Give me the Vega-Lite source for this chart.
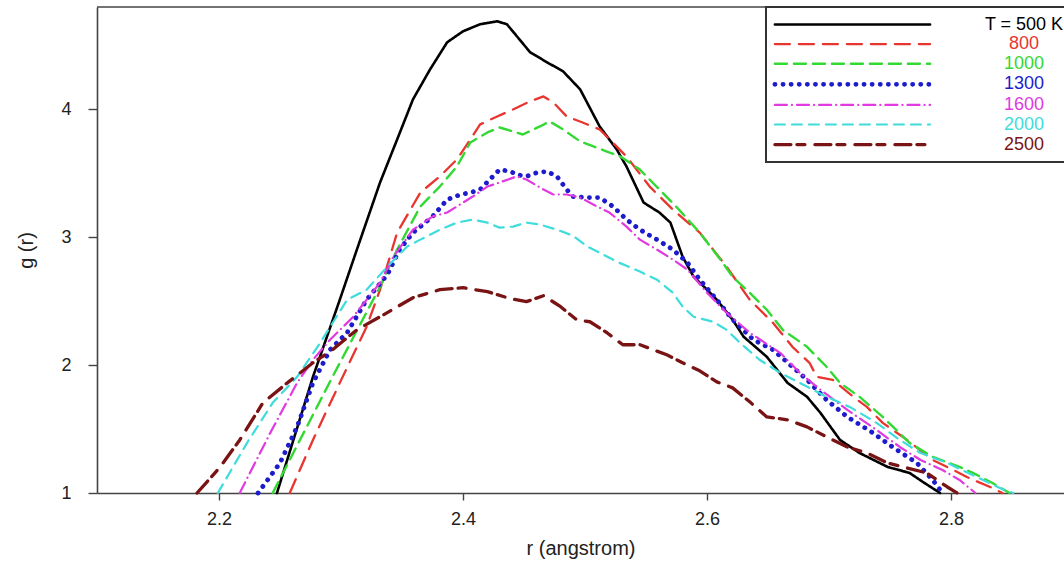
{
  "$schema": "https://vega.github.io/schema/vega-lite/v6.json",
  "width": 967,
  "height": 486,
  "autosize": {"type": "none"},
  "padding": {"left": 97, "top": 7, "right": 0, "bottom": 75},
  "background": "white",
  "config": {
    "view": {"stroke": null},
    "font": "Liberation Sans",
    "axis": {
      "domainColor": "#444", "domainWidth": 1.6, "tickColor": "#444", "tickWidth": 1.4,
      "labelFont": "Liberation Sans", "labelFontSize": 18, "labelColor": "#222",
      "titleFont": "Liberation Sans", "titleFontSize": 20, "titleColor": "#222", "titleFontWeight": "normal",
      "grid": false
    }
  },
  "layer": [
    {
      "data": {"values": [{}]},
      "mark": {"type": "rule", "color": "#444", "strokeWidth": 1.6},
      "encoding": {"y": {"datum": 4.8, "type": "quantitative"}}
    },
    {
      "data": {"values": [
        {"T":"T = 500 K","r":2.2475,"g":1.0},{"T":"T = 500 K","r":2.277,"g":1.908},{"T":"T = 500 K","r":2.299,"g":2.511},{"T":"T = 500 K","r":2.313,"g":2.903},{"T":"T = 500 K","r":2.332,"g":3.428},{"T":"T = 500 K","r":2.346,"g":3.764},{"T":"T = 500 K","r":2.359,"g":4.078},{"T":"T = 500 K","r":2.373,"g":4.312},{"T":"T = 500 K","r":2.387,"g":4.524},{"T":"T = 500 K","r":2.4,"g":4.61},{"T":"T = 500 K","r":2.414,"g":4.665},{"T":"T = 500 K","r":2.428,"g":4.688},{"T":"T = 500 K","r":2.436,"g":4.665},{"T":"T = 500 K","r":2.455,"g":4.446},{"T":"T = 500 K","r":2.469,"g":4.367},{"T":"T = 500 K","r":2.482,"g":4.297},{"T":"T = 500 K","r":2.496,"g":4.156},{"T":"T = 500 K","r":2.512,"g":3.866},{"T":"T = 500 K","r":2.526,"g":3.686},{"T":"T = 500 K","r":2.534,"g":3.553},{"T":"T = 500 K","r":2.548,"g":3.271},{"T":"T = 500 K","r":2.561,"g":3.193},{"T":"T = 500 K","r":2.57,"g":3.114},{"T":"T = 500 K","r":2.58,"g":2.848},{"T":"T = 500 K","r":2.589,"g":2.691},{"T":"T = 500 K","r":2.6,"g":2.59},{"T":"T = 500 K","r":2.608,"g":2.511},{"T":"T = 500 K","r":2.621,"g":2.355},{"T":"T = 500 K","r":2.63,"g":2.222},{"T":"T = 500 K","r":2.649,"g":2.065},{"T":"T = 500 K","r":2.666,"g":1.861},{"T":"T = 500 K","r":2.682,"g":1.752},{"T":"T = 500 K","r":2.693,"g":1.626},{"T":"T = 500 K","r":2.709,"g":1.415},{"T":"T = 500 K","r":2.725,"g":1.313},{"T":"T = 500 K","r":2.748,"g":1.204},{"T":"T = 500 K","r":2.766,"g":1.157},{"T":"T = 500 K","r":2.777,"g":1.086},{"T":"T = 500 K","r":2.791,"g":1.0},
        {"T":"800","r":2.258,"g":1.0},{"T":"800","r":2.277,"g":1.415},{"T":"800","r":2.299,"g":1.861},{"T":"800","r":2.321,"g":2.3},{"T":"800","r":2.332,"g":2.59},{"T":"800","r":2.346,"g":3.036},{"T":"800","r":2.365,"g":3.349},{"T":"800","r":2.381,"g":3.475},{"T":"800","r":2.395,"g":3.608},{"T":"800","r":2.406,"g":3.764},{"T":"800","r":2.414,"g":3.882},{"T":"800","r":2.428,"g":3.944},{"T":"800","r":2.441,"g":3.999},{"T":"800","r":2.455,"g":4.062},{"T":"800","r":2.466,"g":4.101},{"T":"800","r":2.474,"g":4.054},{"T":"800","r":2.485,"g":3.944},{"T":"800","r":2.498,"g":3.897},{"T":"800","r":2.512,"g":3.843},{"T":"800","r":2.534,"g":3.631},{"T":"800","r":2.553,"g":3.396},{"T":"800","r":2.572,"g":3.216},{"T":"800","r":2.594,"g":3.036},{"T":"800","r":2.616,"g":2.77},{"T":"800","r":2.635,"g":2.511},{"T":"800","r":2.654,"g":2.331},{"T":"800","r":2.67,"g":2.143},{"T":"800","r":2.684,"g":2.018},{"T":"800","r":2.69,"g":1.908},{"T":"800","r":2.703,"g":1.885},{"T":"800","r":2.72,"g":1.752},{"T":"800","r":2.731,"g":1.673},{"T":"800","r":2.744,"g":1.548},{"T":"800","r":2.764,"g":1.415},{"T":"800","r":2.785,"g":1.258},{"T":"800","r":2.802,"g":1.18},{"T":"800","r":2.813,"g":1.125},{"T":"800","r":2.834,"g":1.039},{"T":"800","r":2.842,"g":1.0},
        {"T":"1000","r":2.244,"g":1.0},{"T":"1000","r":2.293,"g":1.908},{"T":"1000","r":2.332,"g":2.613},{"T":"1000","r":2.346,"g":2.903},{"T":"1000","r":2.365,"g":3.24},{"T":"1000","r":2.381,"g":3.396},{"T":"1000","r":2.395,"g":3.553},{"T":"1000","r":2.406,"g":3.741},{"T":"1000","r":2.42,"g":3.819},{"T":"1000","r":2.43,"g":3.858},{"T":"1000","r":2.441,"g":3.827},{"T":"1000","r":2.449,"g":3.803},{"T":"1000","r":2.463,"g":3.866},{"T":"1000","r":2.471,"g":3.905},{"T":"1000","r":2.482,"g":3.843},{"T":"1000","r":2.496,"g":3.749},{"T":"1000","r":2.518,"g":3.67},{"T":"1000","r":2.529,"g":3.631},{"T":"1000","r":2.545,"g":3.529},{"T":"1000","r":2.561,"g":3.373},{"T":"1000","r":2.577,"g":3.216},{"T":"1000","r":2.594,"g":3.036},{"T":"1000","r":2.611,"g":2.825},{"T":"1000","r":2.621,"g":2.691},{"T":"1000","r":2.635,"g":2.566},{"T":"1000","r":2.649,"g":2.433},{"T":"1000","r":2.662,"g":2.276},{"T":"1000","r":2.682,"g":2.143},{"T":"1000","r":2.698,"g":1.987},{"T":"1000","r":2.709,"g":1.861},{"T":"1000","r":2.725,"g":1.752},{"T":"1000","r":2.744,"g":1.595},{"T":"1000","r":2.766,"g":1.392},{"T":"1000","r":2.785,"g":1.282},{"T":"1000","r":2.807,"g":1.204},{"T":"1000","r":2.818,"g":1.157},{"T":"1000","r":2.834,"g":1.078},{"T":"1000","r":2.848,"g":1.0},
        {"T":"1300","r":2.232,"g":1.0},{"T":"1300","r":2.25,"g":1.235},{"T":"1300","r":2.264,"g":1.517},{"T":"1300","r":2.277,"g":1.861},{"T":"1300","r":2.291,"g":2.12},{"T":"1300","r":2.305,"g":2.253},{"T":"1300","r":2.321,"g":2.511},{"T":"1300","r":2.338,"g":2.707},{"T":"1300","r":2.348,"g":2.903},{"T":"1300","r":2.359,"g":3.036},{"T":"1300","r":2.375,"g":3.161},{"T":"1300","r":2.387,"g":3.294},{"T":"1300","r":2.398,"g":3.334},{"T":"1300","r":2.406,"g":3.349},{"T":"1300","r":2.414,"g":3.373},{"T":"1300","r":2.422,"g":3.451},{"T":"1300","r":2.43,"g":3.529},{"T":"1300","r":2.439,"g":3.514},{"T":"1300","r":2.444,"g":3.49},{"T":"1300","r":2.452,"g":3.475},{"T":"1300","r":2.461,"g":3.506},{"T":"1300","r":2.469,"g":3.514},{"T":"1300","r":2.477,"g":3.475},{"T":"1300","r":2.485,"g":3.373},{"T":"1300","r":2.49,"g":3.318},{"T":"1300","r":2.502,"g":3.31},{"T":"1300","r":2.512,"g":3.31},{"T":"1300","r":2.523,"g":3.24},{"T":"1300","r":2.534,"g":3.138},{"T":"1300","r":2.545,"g":3.059},{"T":"1300","r":2.559,"g":2.981},{"T":"1300","r":2.572,"g":2.903},{"T":"1300","r":2.584,"g":2.801},{"T":"1300","r":2.594,"g":2.668},{"T":"1300","r":2.608,"g":2.511},{"T":"1300","r":2.621,"g":2.355},{"T":"1300","r":2.638,"g":2.198},{"T":"1300","r":2.654,"g":2.12},{"T":"1300","r":2.67,"g":1.987},{"T":"1300","r":2.682,"g":1.885},{"T":"1300","r":2.698,"g":1.728},{"T":"1300","r":2.715,"g":1.595},{"T":"1300","r":2.736,"g":1.47},{"T":"1300","r":2.752,"g":1.36},{"T":"1300","r":2.772,"g":1.235},{"T":"1300","r":2.785,"g":1.102},{"T":"1300","r":2.793,"g":1.0},
        {"T":"1600","r":2.217,"g":1.0},{"T":"1600","r":2.242,"g":1.47},{"T":"1600","r":2.264,"g":1.861},{"T":"1600","r":2.277,"g":2.042},{"T":"1600","r":2.291,"g":2.198},{"T":"1600","r":2.31,"g":2.378},{"T":"1600","r":2.332,"g":2.644},{"T":"1600","r":2.343,"g":2.848},{"T":"1600","r":2.359,"g":3.059},{"T":"1600","r":2.375,"g":3.161},{"T":"1600","r":2.387,"g":3.193},{"T":"1600","r":2.4,"g":3.271},{"T":"1600","r":2.408,"g":3.318},{"T":"1600","r":2.42,"g":3.396},{"T":"1600","r":2.43,"g":3.428},{"T":"1600","r":2.444,"g":3.475},{"T":"1600","r":2.452,"g":3.451},{"T":"1600","r":2.466,"g":3.373},{"T":"1600","r":2.474,"g":3.334},{"T":"1600","r":2.485,"g":3.334},{"T":"1600","r":2.496,"g":3.31},{"T":"1600","r":2.51,"g":3.24},{"T":"1600","r":2.52,"g":3.193},{"T":"1600","r":2.534,"g":3.083},{"T":"1600","r":2.545,"g":2.981},{"T":"1600","r":2.559,"g":2.903},{"T":"1600","r":2.572,"g":2.825},{"T":"1600","r":2.584,"g":2.746},{"T":"1600","r":2.6,"g":2.566},{"T":"1600","r":2.616,"g":2.41},{"T":"1600","r":2.635,"g":2.253},{"T":"1600","r":2.66,"g":2.096},{"T":"1600","r":2.676,"g":1.94},{"T":"1600","r":2.693,"g":1.807},{"T":"1600","r":2.715,"g":1.65},{"T":"1600","r":2.739,"g":1.493},{"T":"1600","r":2.758,"g":1.36},{"T":"1600","r":2.775,"g":1.258},{"T":"1600","r":2.793,"g":1.18},{"T":"1600","r":2.807,"g":1.102},{"T":"1600","r":2.82,"g":1.0},
        {"T":"2000","r":2.199,"g":1.0},{"T":"2000","r":2.223,"g":1.392},{"T":"2000","r":2.244,"g":1.705},{"T":"2000","r":2.264,"g":1.908},{"T":"2000","r":2.283,"g":2.175},{"T":"2000","r":2.305,"g":2.511},{"T":"2000","r":2.321,"g":2.59},{"T":"2000","r":2.338,"g":2.77},{"T":"2000","r":2.354,"g":2.926},{"T":"2000","r":2.365,"g":2.981},{"T":"2000","r":2.381,"g":3.059},{"T":"2000","r":2.395,"g":3.114},{"T":"2000","r":2.408,"g":3.138},{"T":"2000","r":2.42,"g":3.114},{"T":"2000","r":2.43,"g":3.075},{"T":"2000","r":2.441,"g":3.083},{"T":"2000","r":2.452,"g":3.114},{"T":"2000","r":2.463,"g":3.099},{"T":"2000","r":2.477,"g":3.059},{"T":"2000","r":2.49,"g":3.012},{"T":"2000","r":2.502,"g":2.926},{"T":"2000","r":2.512,"g":2.879},{"T":"2000","r":2.526,"g":2.809},{"T":"2000","r":2.545,"g":2.731},{"T":"2000","r":2.559,"g":2.668},{"T":"2000","r":2.572,"g":2.566},{"T":"2000","r":2.58,"g":2.457},{"T":"2000","r":2.589,"g":2.378},{"T":"2000","r":2.605,"g":2.339},{"T":"2000","r":2.616,"g":2.276},{"T":"2000","r":2.627,"g":2.175},{"T":"2000","r":2.643,"g":2.042},{"T":"2000","r":2.66,"g":1.94},{"T":"2000","r":2.676,"g":1.861},{"T":"2000","r":2.698,"g":1.752},{"T":"2000","r":2.717,"g":1.673},{"T":"2000","r":2.739,"g":1.548},{"T":"2000","r":2.758,"g":1.415},{"T":"2000","r":2.775,"g":1.313},{"T":"2000","r":2.797,"g":1.235},{"T":"2000","r":2.821,"g":1.125},{"T":"2000","r":2.84,"g":1.039},{"T":"2000","r":2.851,"g":1.0},
        {"T":"2500","r":2.182,"g":1.0},{"T":"2500","r":2.201,"g":1.204},{"T":"2500","r":2.217,"g":1.415},{"T":"2500","r":2.236,"g":1.705},{"T":"2500","r":2.256,"g":1.861},{"T":"2500","r":2.277,"g":2.018},{"T":"2500","r":2.293,"g":2.12},{"T":"2500","r":2.313,"g":2.276},{"T":"2500","r":2.332,"g":2.378},{"T":"2500","r":2.359,"g":2.527},{"T":"2500","r":2.381,"g":2.59},{"T":"2500","r":2.4,"g":2.605},{"T":"2500","r":2.42,"g":2.574},{"T":"2500","r":2.439,"g":2.519},{"T":"2500","r":2.452,"g":2.496},{"T":"2500","r":2.466,"g":2.543},{"T":"2500","r":2.48,"g":2.457},{"T":"2500","r":2.493,"g":2.355},{"T":"2500","r":2.504,"g":2.339},{"T":"2500","r":2.518,"g":2.253},{"T":"2500","r":2.531,"g":2.159},{"T":"2500","r":2.545,"g":2.159},{"T":"2500","r":2.567,"g":2.081},{"T":"2500","r":2.58,"g":2.018},{"T":"2500","r":2.594,"g":1.955},{"T":"2500","r":2.608,"g":1.869},{"T":"2500","r":2.621,"g":1.822},{"T":"2500","r":2.635,"g":1.713},{"T":"2500","r":2.649,"g":1.595},{"T":"2500","r":2.666,"g":1.572},{"T":"2500","r":2.682,"g":1.517},{"T":"2500","r":2.698,"g":1.439},{"T":"2500","r":2.715,"g":1.36},{"T":"2500","r":2.731,"g":1.313},{"T":"2500","r":2.748,"g":1.235},{"T":"2500","r":2.764,"g":1.196},{"T":"2500","r":2.78,"g":1.157},{"T":"2500","r":2.797,"g":1.047},{"T":"2500","r":2.805,"g":1.0}
      ]},
      "mark": {"type": "line", "strokeCap": "round", "strokeJoin": "round"},
      "encoding": {
        "x": {"field": "r", "type": "quantitative",
          "scale": {"domain": [2.1, 2.8926], "nice": false, "zero": false},
          "axis": {"values": [2.2, 2.4, 2.6, 2.8], "format": ".1f", "title": "r (angstrom)", "tickSize": 7, "labelPadding": 10, "titlePadding": 10}},
        "y": {"field": "g", "type": "quantitative",
          "scale": {"domain": [1, 4.8], "nice": false, "zero": false},
          "axis": {"values": [1, 2, 3, 4], "format": "d", "title": "g (r)", "tickSize": 9, "labelPadding": 17, "titlePadding": 24}},
        "order": {"field": "r", "type": "quantitative"},
        "color": {"field": "T", "type": "nominal",
          "scale": {"domain": ["T = 500 K", "800", "1000", "1300", "1600", "2000", "2500"],
                    "range": ["#000000", "#e8352f", "#33d933", "#1c1ccc", "#e03ae0", "#3fdcdc", "#7a1414"]},
          "legend": {"title": null, "orient": "none", "legendX": 669, "legendY": 0,
            "fillColor": "white", "strokeColor": "#333", "padding": 8, "rowPadding": 0.6,
            "symbolType": "M-9.7,0H9.7", "symbolSize": 256, "symbolOffset": 68, "labelOffset": 161,
            "labelAlign": "center", "labelFont": "Liberation Sans", "labelFontSize": 18, "labelLimit": 300,
            "encode": {"labels": {"update": {"fill": {"signal": "scale('color', datum.value)"}}},
                       "symbols": {"update": {"strokeCap": {"value": "round"}}},
                       "legend": {"update": {"strokeWidth": {"value": 2}}}}}},
        "strokeDash": {"field": "T", "type": "nominal",
          "scale": {"domain": ["T = 500 K", "800", "1000", "1300", "1600", "2000", "2500"],
                    "range": [[1, 0], [15, 9], [12, 7], [0.1, 8], [12, 5, 0.1, 5], [10, 7], [16, 6, 8, 10]]},
          "legend": {"title": null, "orient": "none", "legendX": 669, "legendY": 0,
            "fillColor": "white", "strokeColor": "#333", "padding": 8, "rowPadding": 0.6,
            "symbolType": "M-9.7,0H9.7", "symbolSize": 256, "symbolOffset": 68, "labelOffset": 161,
            "labelAlign": "center", "labelFont": "Liberation Sans", "labelFontSize": 18, "labelLimit": 300,
            "encode": {"labels": {"update": {"fill": {"signal": "scale('color', datum.value)"}}},
                       "symbols": {"update": {"strokeCap": {"value": "round"}}},
                       "legend": {"update": {"strokeWidth": {"value": 2}}}}}},
        "strokeWidth": {"field": "T", "type": "ordinal",
          "scale": {"type": "ordinal", "domain": ["T = 500 K", "800", "1000", "1300", "1600", "2000", "2500"],
                    "range": [2.6, 2.3, 2.4, 4.8, 2.2, 2.2, 3.3]},
          "legend": {"title": null, "orient": "none", "legendX": 669, "legendY": 0,
            "fillColor": "white", "strokeColor": "#333", "padding": 8, "rowPadding": 0.6,
            "symbolType": "M-9.7,0H9.7", "symbolSize": 256, "symbolOffset": 68, "labelOffset": 161,
            "labelAlign": "center", "labelFont": "Liberation Sans", "labelFontSize": 18, "labelLimit": 300,
            "encode": {"labels": {"update": {"fill": {"signal": "scale('color', datum.value)"}}},
                       "symbols": {"update": {"strokeCap": {"value": "round"}}},
                       "legend": {"update": {"strokeWidth": {"value": 2}}}}}}
      }
    }
  ]
}
